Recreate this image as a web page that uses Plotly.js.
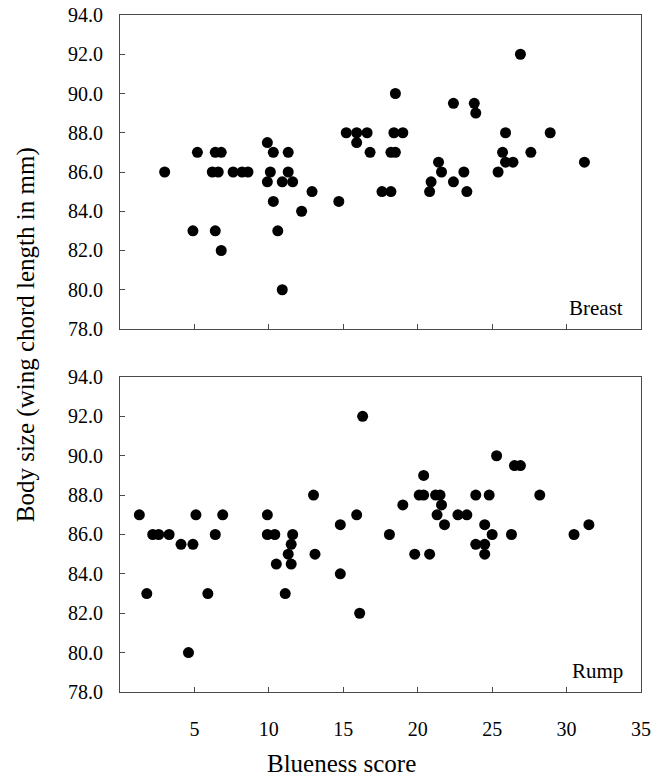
<!DOCTYPE html>
<html>
<head>
<meta charset="utf-8">
<script src="https://cdn.plot.ly/plotly-3.0.1.min.js"></script>
<style>html,body{margin:0;padding:0;background:#fff;}#chart{width:652px;height:776px;}</style>
</head>
<body>
<div id="chart"></div>
<script>
// Breast panel data
const breastX = [3.0,5.2,4.9,6.4,6.8,6.2,6.6,6.4,6.8,7.6,8.2,8.6,9.9,10.3,11.3,10.1,11.3,9.9,10.9,11.6,10.3,10.6,10.9,12.2,12.9,14.7,15.2,15.9,16.6,15.9,16.8,17.6,18.2,18.5,18.4,19.0,18.2,18.5,20.8,20.9,21.4,21.6,22.4,22.4,23.1,23.3,23.8,23.9,25.4,25.7,25.9,25.9,26.4,26.9,27.6,28.9,31.2];
const breastY = [86,87,83,87,87,86,86,83,82,86,86,86,87.5,87,87,86,86,85.5,85.5,85.5,84.5,83,80,84,85,84.5,88,88,88,87.5,87,85,85,90,88,88,87,87,85,85.5,86.5,86,89.5,85.5,86,85,89.5,89,86,87,88,86.5,86.5,92,87,88,86.5];
// Rump panel data
const rumpX = [1.3,1.8,2.2,2.6,3.3,4.1,4.9,4.6,5.1,5.9,6.4,6.9,9.9,9.9,10.4,11.6,11.5,11.3,10.5,11.5,11.1,13.0,13.1,14.8,14.8,15.9,16.3,16.1,18.1,19.0,19.8,20.8,20.1,20.4,20.4,21.2,21.5,21.6,21.3,21.8,22.7,23.3,23.9,24.8,24.5,25.0,23.9,24.5,24.5,25.3,26.5,26.9,26.3,28.2,30.5,31.5];
const rumpY = [87,83,86,86,86,85.5,85.5,80,87,83,86,87,87,86,86,86,85.5,85,84.5,84.5,83,88,85,86.5,84,87,92,82,86,87.5,85,85,88,88,89,88,88,87.5,87,86.5,87,87,88,88,86.5,86,85.5,85.5,85,90,89.5,89.5,86,88,86,86.5];
// Tick labels
const xTickVals = [5,10,15,20,25,30,35];
const xTickText = ["5","10","15","20","25","30","35"];
const yTickVals = [78,80,82,84,86,88,90,92,94];
const yTickText = ["78.0","80.0","82.0","84.0","86.0","88.0","90.0","92.0","94.0"];
const panelLabels = ["Breast","Rump"];
const xTitle = "Blueness score";
const yTitle = "Body size (wing chord length in mm)";

const FONT = "Liberation Serif, Times New Roman, serif";
const marker = {color:"#000", size:11, line:{width:0}};

const traces = [
  {x:breastX, y:breastY, type:"scatter", mode:"markers", marker:marker, xaxis:"x", yaxis:"y", hoverinfo:"skip"},
  {x:rumpX, y:rumpY, type:"scatter", mode:"markers", marker:marker, xaxis:"x2", yaxis:"y2", hoverinfo:"skip"}
];

const lineCol = "#4a4a4a";
function xa(showLabels, anchor){
  return {anchor:anchor, domain:[0,1], range:[0,35], tickvals:xTickVals, ticktext:xTickText,
    showticklabels:showLabels, ticks:"inside", ticklen:5, tickcolor:lineCol, tickwidth:1,
    showline:true, mirror:true, linecolor:lineCol, linewidth:1, showgrid:false, zeroline:false,
    ticklabelstandoff:19, tickfont:{family:FONT, size:20, color:"#000"}, fixedrange:true};
}
function ya(domain, anchor){
  return {anchor:anchor, domain:domain, range:[78,94], tickvals:yTickVals, ticktext:yTickText,
    ticks:"inside", ticklen:5, tickcolor:lineCol, tickwidth:1,
    showline:true, mirror:true, linecolor:lineCol, linewidth:1, showgrid:false, zeroline:false,
    ticklabelstandoff:12, tickfont:{family:FONT, size:20, color:"#000"}, fixedrange:true};
}

const layout = {
  width:652, height:776,
  margin:{l:120, r:11, t:15, b:84},
  paper_bgcolor:"#fff", plot_bgcolor:"#fff",
  showlegend:false,
  font:{family:FONT, color:"#000"},
  xaxis: xa(false, "y"),
  yaxis: ya([0.5362,1], "x"),
  xaxis2: xa(true, "y2"),
  yaxis2: ya([0,0.4653], "x2"),
  annotations:[
    {text:panelLabels[0], xref:"x", yref:"y", x:33.9, y:79.07, xanchor:"right", yanchor:"middle", showarrow:false, font:{family:FONT, size:21, color:"#000"}},
    {text:panelLabels[1], xref:"x2", yref:"y2", x:33.9, y:79.07, xanchor:"right", yanchor:"middle", showarrow:false, font:{family:FONT, size:21, color:"#000"}},
    {text:xTitle, xref:"paper", yref:"paper", x:0.426, y:-0.1063, xanchor:"center", yanchor:"middle", showarrow:false, font:{family:FONT, size:25, color:"#000"}},
    {text:yTitle, xref:"paper", yref:"paper", x:-0.1804, y:0.527, xanchor:"center", yanchor:"middle", textangle:-90, showarrow:false, font:{family:FONT, size:25, color:"#000"}}
  ]
};

Plotly.newPlot("chart", traces, layout, {displayModeBar:false, staticPlot:true});
</script>
</body>
</html>
